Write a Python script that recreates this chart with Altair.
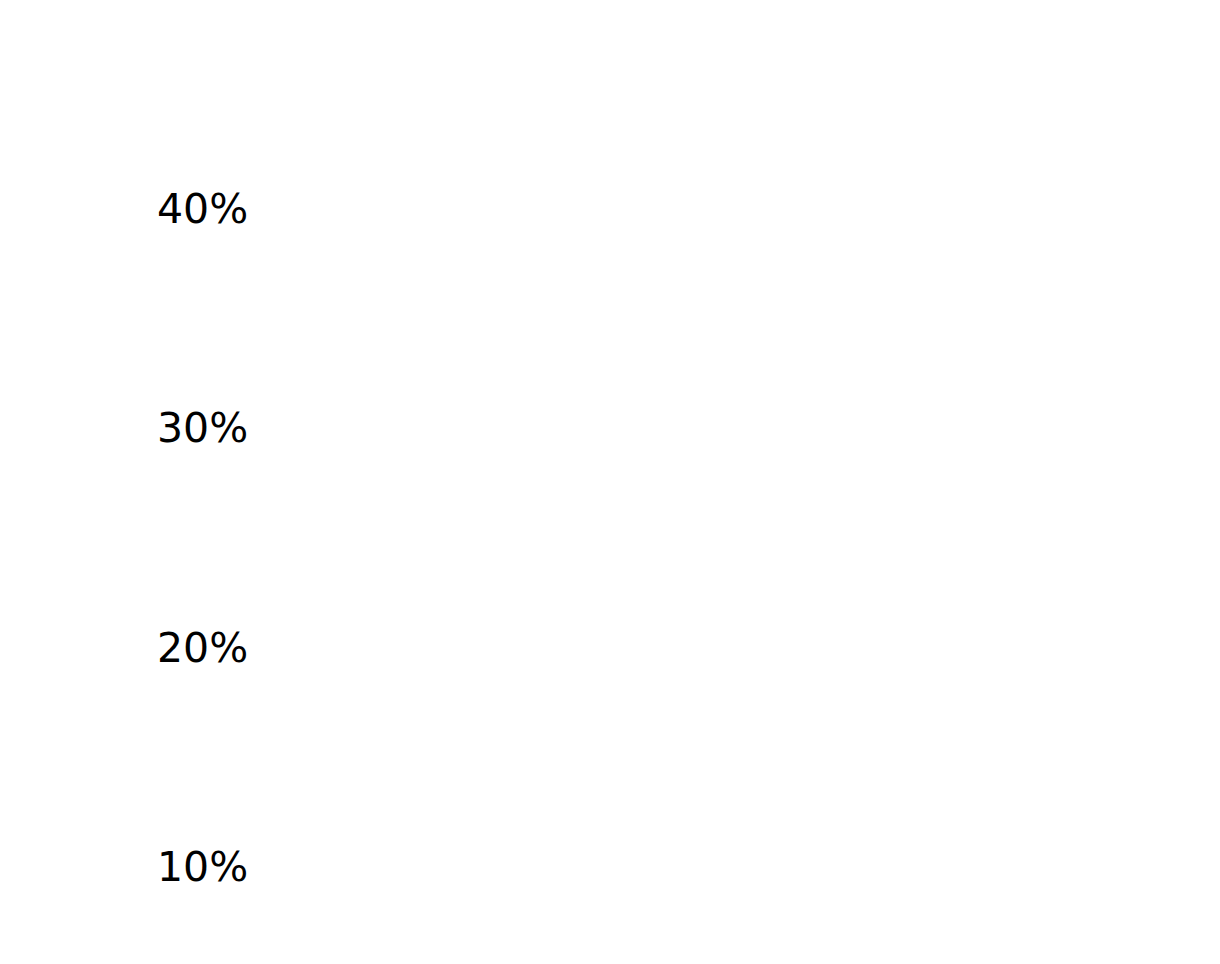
import altair as alt
import pandas as pd

values = [0.40, 0.30, 0.20, 0.10]

df = pd.DataFrame({"value": values})

chart = (
    alt.Chart(df)
    .mark_text(align="left", baseline="middle", font="DejaVu Sans", fontSize=41, color="#000000")
    .encode(
        x=alt.value(157),
        y=alt.Y("value:Q", scale=alt.Scale(domain=[0.0569, 0.4959], nice=False, zero=False), axis=None),
        text=alt.Text("value:Q", format=".0%"),
    )
    .properties(width=1220, height=964, padding=0, autosize=alt.AutoSizeParams(type="none"))
    .configure_view(stroke=None)
)

chart.save("out.html", embed_options={"renderer": "svg", "actions": False})
